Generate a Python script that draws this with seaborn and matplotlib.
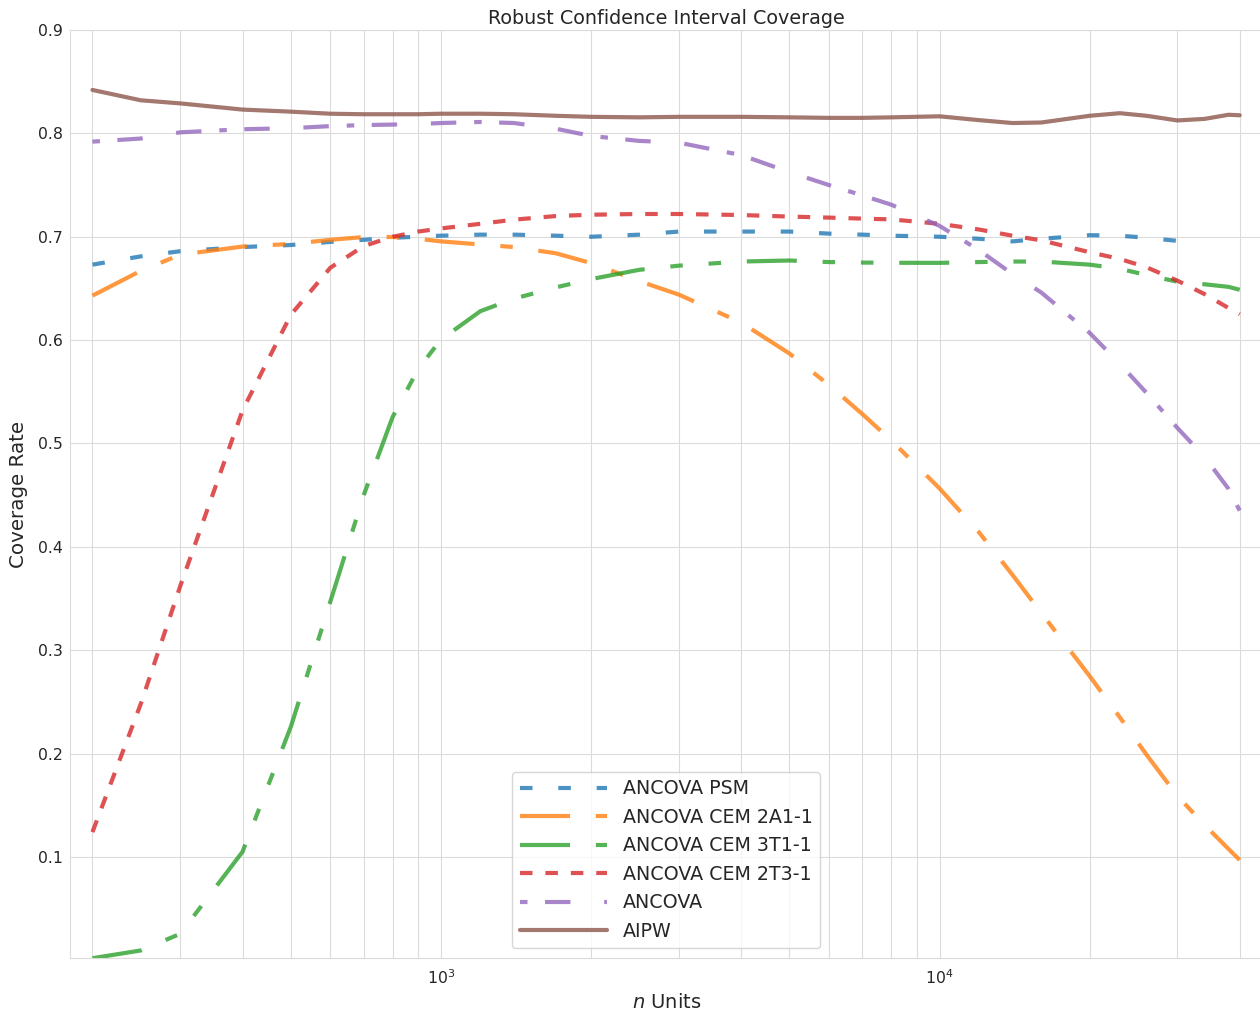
import matplotlib
matplotlib.use("Agg")
import matplotlib.pyplot as plt
import pandas as pd
import seaborn as sns

# ---------------- data ----------------
n_units = [200, 250, 300, 400, 500, 600, 700, 800, 900, 1000, 1200, 1400, 1700,
           2000, 2500, 3000, 4000, 5000, 6000, 7000, 8000, 10000, 12000, 14000,
           16000, 20000, 23000, 26000, 30000, 34000, 38000, 40000]

ancova_psm = [0.673, 0.681, 0.686, 0.690, 0.692, 0.695, 0.697, 0.699, 0.700, 0.701,
              0.702, 0.702, 0.701, 0.700, 0.702, 0.705, 0.705, 0.705, 0.703, 0.702,
              0.701, 0.700, 0.698, 0.6955, 0.698, 0.7015, 0.701, 0.699, 0.696]

ancova_cem_2a1 = [0.643, 0.667, 0.6826, 0.6905, 0.693, 0.697, 0.6997, 0.6997, 0.698,
                  0.6955, 0.6925, 0.690, 0.684, 0.6745, 0.657, 0.644, 0.617, 0.587,
                  0.5565, 0.5285, 0.503, 0.4565, 0.414, 0.373, 0.336, 0.275, 0.235,
                  0.199, 0.159, 0.131, 0.1076, 0.097]

ancova_cem_3t1 = [0.002, 0.0095, 0.0256, 0.105, 0.226, 0.347, 0.450, 0.5256, 0.572,
                  0.6005, 0.628, 0.640, 0.651, 0.659, 0.668, 0.672, 0.676, 0.677,
                  0.6755, 0.675, 0.6748, 0.6747, 0.6755, 0.676, 0.676, 0.673, 0.669,
                  0.663, 0.6565, 0.654, 0.6515, 0.6487]

ancova_cem_2t3 = [0.124, 0.248, 0.362, 0.532, 0.6245, 0.670, 0.691, 0.700, 0.705,
                  0.708, 0.7125, 0.7165, 0.720, 0.7213, 0.722, 0.722, 0.721, 0.7195,
                  0.7185, 0.7175, 0.7168, 0.7125, 0.707, 0.701, 0.6965, 0.685,
                  0.6785, 0.6705, 0.6575, 0.6445, 0.631, 0.625]

ancova = [0.792, 0.795, 0.801, 0.804, 0.805, 0.807, 0.808, 0.8085, 0.809, 0.810,
          0.811, 0.810, 0.8045, 0.7975, 0.7927, 0.791, 0.779, 0.7625, 0.750, 0.740,
          0.731, 0.7105, 0.687, 0.664, 0.646, 0.607, 0.577, 0.549, 0.515, 0.487,
          0.456, 0.435]

aipw = [0.842, 0.832, 0.829, 0.823, 0.821, 0.819, 0.8185, 0.8185, 0.8185, 0.819,
        0.819, 0.8185, 0.817, 0.816, 0.8155, 0.816, 0.816, 0.8155, 0.815, 0.815,
        0.8155, 0.8165, 0.8128, 0.810, 0.8105, 0.817, 0.8195, 0.817, 0.8125,
        0.814, 0.818, 0.8175]

methods = ["ANCOVA PSM", "ANCOVA CEM 2A1-1", "ANCOVA CEM 3T1-1",
           "ANCOVA CEM 2T3-1", "ANCOVA", "AIPW"]
series = [ancova_psm, ancova_cem_2a1, ancova_cem_3t1, ancova_cem_2t3, ancova, aipw]

# ---------------- styles ----------------
colors = ["#1f77b4", "#ff7f0e", "#2ca02c", "#d62728", "#9467bd", "#8c564b"]
dash_patterns = [(3, 6.2), (12, 6.2, 3, 6.2), (12, 6.2, 3, 6.2, 3, 6.2), (3, 3.1),
                 (1.8, 4.2, 6.1, 8.1, 6.1, 4.3), ""]

sns.set_theme(style="whitegrid")
plt.rcParams["font.family"] = ["DejaVu Sans"]

frames = []
for name, vals in zip(methods, series):
    frames.append(pd.DataFrame({"n": n_units[:len(vals)], "coverage": vals, "method": name}))
df = pd.concat(frames, ignore_index=True)

W, H = 1260, 1011
fig = plt.figure(figsize=(W / 100, H / 100), dpi=100)
ax = fig.add_axes([70 / W, 1 - 958 / H, 1192.5 / W, 928 / H])
ax.set_xscale("log")

sns.lineplot(data=df, x="n", y="coverage", hue="method", style="method",
             hue_order=methods, style_order=methods,
             palette=dict(zip(methods, colors)),
             dashes=dict(zip(methods, dash_patterns)),
             linewidth=3, alpha=0.8, estimator=None, errorbar=None, ax=ax)

ax.set_xlim(180.3, 44440)
ax.set_ylim(0.0022, 0.9)
ax.set_yticks([0.1, 0.2, 0.3, 0.4, 0.5, 0.6, 0.7, 0.8, 0.9])
ax.grid(True, which="major", color=".86", linewidth=0.8)
ax.grid(True, which="minor", axis="x", color=".86", linewidth=0.8)
for sp in ax.spines.values():
    sp.set_color(".86")
    sp.set_linewidth(0.8)
ax.tick_params(which="both", length=0, labelsize=11.3, colors=".15")
ax.tick_params(axis="x", which="both", pad=7.5)
ax.tick_params(axis="y", which="both", pad=5)

ax.set_title("Robust Confidence Interval Coverage", fontsize=13.8, color=".15", pad=4)
ax.set_xlabel("$n$ Units", fontsize=14, color=".15", labelpad=4)
ax.set_ylabel("Coverage Rate", fontsize=14.3, color=".15", labelpad=7)

sns.move_legend(ax, "lower center", title=None, fontsize=13.7, handlelength=4.6,
                labelspacing=0.5, frameon=True)

fig.savefig("out.png", dpi=100)
